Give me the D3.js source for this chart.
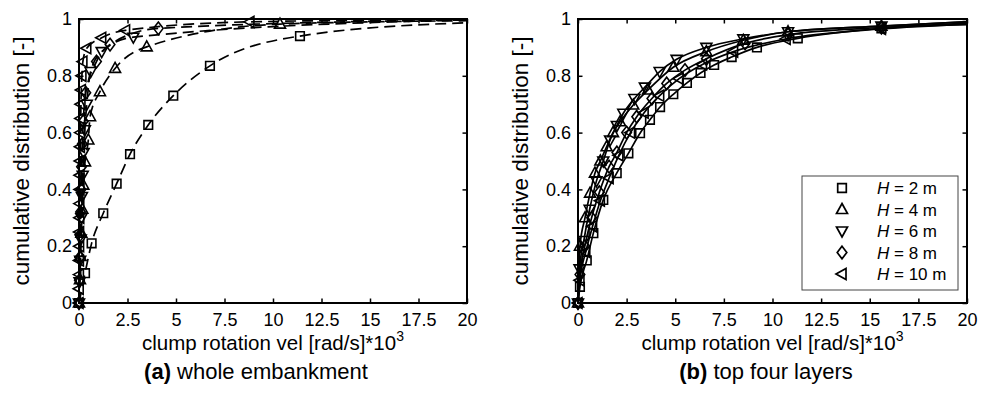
<!DOCTYPE html>
<html>
<head>
<meta charset="utf-8">
<script src="https://cdn.jsdelivr.net/npm/d3@7"></script>
<style>
  body { margin: 0; background: #fff; }
  svg text { font-family: "Liberation Sans", Arial, sans-serif; fill: #000; }
</style>
</head>
<body>
<div id="chart"></div>
<script>
// tick values and labels
const xTickValues = [0, 2.5, 5, 7.5, 10, 12.5, 15, 17.5, 20];
const xTickLabels = ["0", "2.5", "5", "7.5", "10", "12.5", "15", "17.5", "20"];
const yTickValues = [0, 0.2, 0.4, 0.6, 0.8, 1];
const yTickLabels = ["0", "0.2", "0.4", "0.6", "0.8", "1"];

// series: embankment height
const heights = ["2", "4", "6", "8", "10"];
const markerKinds = ["square", "triUp", "triDown", "diamond", "triLeft"];

// (a) whole embankment - marker points
const aX_h2 = [0, 0.31, 0.65, 1.25, 1.94, 2.63, 3.57, 4.86, 6.75, 11.39];
const aY_h2 = [0, 0.105, 0.21, 0.316, 0.42, 0.524, 0.627, 0.73, 0.835, 0.94];
const aX_h4 = [0, 0.05, 0.08, 0.12, 0.17, 0.22, 0.31, 0.48, 0.57, 1.08, 1.86, 3.49, 10.36];
const aY_h4 = [0, 0.082, 0.164, 0.246, 0.33, 0.415, 0.497, 0.574, 0.656, 0.744, 0.826, 0.902, 0.982];
const aX_h6 = [0, 0.03, 0.06, 0.09, 0.12, 0.15, 0.19, 0.24, 0.3, 0.4, 0.6, 1.17, 2.8];
const aY_h6 = [0, 0.075, 0.15, 0.225, 0.3, 0.375, 0.45, 0.53, 0.61, 0.7, 0.815, 0.885, 0.936];
const aX_h8 = [0, 0.02, 0.04, 0.06, 0.08, 0.1, 0.13, 0.17, 0.22, 0.35, 0.9, 1.6, 4.09];
const aY_h8 = [0, 0.08, 0.16, 0.24, 0.32, 0.4, 0.48, 0.56, 0.64, 0.74, 0.85, 0.91, 0.967];
const aX_h10 = [0, 0.01, 0.02, 0.02, 0.03, 0.03, 0.04, 0.04, 0.05, 0.05, 0.06, 0.07, 0.08, 0.09, 0.1, 0.12, 0.15, 0.2, 0.4, 1.17, 2.4, 8.81];
const aY_h10 = [0, 0.05, 0.1, 0.15, 0.2, 0.25, 0.3, 0.35, 0.4, 0.45, 0.5, 0.55, 0.6, 0.65, 0.7, 0.75, 0.8, 0.85, 0.897, 0.934, 0.96, 0.99];
// value of each curve where it leaves the plot at x = 20
const aTailY = [0.987, 0.994, 0.997, 0.997, 0.998];

// (b) top four layers - marker points
const bX_h2 = [0, 0.1, 0.45, 0.79, 1.3, 1.99, 2.59, 3.19, 3.7, 4.22, 4.9, 5.6, 6.3, 7.0, 7.9, 9.2, 11.3, 15.6];
const bY_h2 = [0, 0.057, 0.15, 0.246, 0.363, 0.457, 0.527, 0.598, 0.645, 0.69, 0.735, 0.775, 0.81, 0.838, 0.866, 0.9, 0.932, 0.967];
const bX_h4 = [0, 0.1, 0.36, 0.62, 0.87, 1.15, 1.47, 1.8, 2.16, 2.84, 3.6, 4.9, 6.6, 8.5, 10.8, 15.6];
const bY_h4 = [0, 0.2, 0.3, 0.387, 0.457, 0.5, 0.55, 0.6, 0.638, 0.697, 0.75, 0.83, 0.885, 0.925, 0.955, 0.975];
const bX_h6 = [0, 0.08, 0.3, 0.6, 0.95, 1.3, 1.65, 2.0, 2.33, 2.9, 3.44, 4.2, 5.07, 6.6, 8.5, 10.8, 15.6];
const bY_h6 = [0, 0.12, 0.22, 0.33, 0.43, 0.5, 0.574, 0.625, 0.668, 0.72, 0.76, 0.815, 0.858, 0.9, 0.93, 0.955, 0.975];
const bX_h8 = [0, 0.1, 0.35, 0.7, 1.1, 1.6, 2.0, 2.5, 3.02, 3.8, 4.56, 5.5, 6.6, 8.59, 10.8, 15.6];
const bY_h8 = [0, 0.1, 0.2, 0.3, 0.39, 0.48, 0.53, 0.6, 0.656, 0.72, 0.773, 0.82, 0.86, 0.914, 0.945, 0.97];
const bX_h10 = [0, 0.1, 0.4, 0.75, 1.15, 1.6, 2.1, 2.7, 3.4, 4.2, 5.2, 6.4, 8.0, 10.7, 15.6];
const bY_h10 = [0, 0.08, 0.18, 0.27, 0.36, 0.44, 0.52, 0.6, 0.67, 0.73, 0.79, 0.84, 0.885, 0.93, 0.965];
const bTailY = [0.98, 0.99, 0.99, 0.985, 0.982];

const width = 987, height = 398;
const plotTop = 19, plotBottom = 303;

const svg = d3.select("#chart").append("svg")
    .attr("width", width)
    .attr("height", height);

// marker outlines, centred on 0,0
function markerPath(kind) {
  if (kind == "square") return "M-4.3,-4.3H4.3V4.3H-4.3Z";
  if (kind == "triUp") return "M0,-6L5.5,4L-5.5,4Z";
  if (kind == "triDown") return "M0,6L5.5,-4L-5.5,-4Z";
  if (kind == "diamond") return "M0,-6.3L4.8,0L0,6.3L-4.8,0Z";
  return "M-6,0L4,-5.5L4,5.5Z";
}

function drawPanel(opt) {
  const x = d3.scaleLinear().domain([0, 20]).range([opt.left, opt.right]);
  const y = d3.scaleLinear().domain([0, 1]).range([plotBottom, plotTop]);
  const g = svg.append("g");

  // inward ticks on all four sides
  g.append("g")
    .attr("transform", "translate(0," + plotBottom + ")")
    .call(d3.axisBottom(x).tickValues(xTickValues)
      .tickFormat((d, i) => xTickLabels[i]).tickSize(-4.5).tickPadding(10))
    .call(ax => ax.select(".domain").remove())
    .selectAll("text").style("font-size", "18px");
  g.append("g")
    .attr("transform", "translate(0," + plotTop + ")")
    .call(d3.axisTop(x).tickValues(xTickValues).tickFormat("").tickSize(-4.5))
    .call(ax => ax.select(".domain").remove());
  g.append("g")
    .attr("transform", "translate(" + opt.left + ",0)")
    .call(d3.axisLeft(y).tickValues(yTickValues)
      .tickFormat((d, i) => yTickLabels[i]).tickSize(-4.5).tickPadding(7))
    .call(ax => ax.select(".domain").remove())
    .selectAll("text").style("font-size", "18px");
  g.append("g")
    .attr("transform", "translate(" + opt.right + ",0)")
    .call(d3.axisRight(y).tickValues(yTickValues).tickFormat("").tickSize(-4.5))
    .call(ax => ax.select(".domain").remove());
  g.selectAll(".tick line").attr("stroke", "#000").attr("stroke-width", 1.5);

  const line = d3.line()
    .x(d => x(d[0]))
    .y(d => y(d[1]))
    .curve(d3.curveMonotoneX);

  opt.series.forEach((s, i) => {
    const pts = s.xs.map((v, j) => [v, s.ys[j]]);
    g.append("path")
      .attr("d", line(pts.concat([[20, opt.tail[i]]])))
      .attr("fill", "none")
      .attr("stroke", "#000")
      .attr("stroke-width", 1.7)
      .attr("stroke-dasharray", opt.dash);
    g.selectAll(null).data(pts).enter().append("path")
      .attr("transform", d => "translate(" + x(d[0]) + "," + y(d[1]) + ")")
      .attr("d", markerPath(markerKinds[i]))
      .attr("fill", "none")
      .attr("stroke", "#000")
      .attr("stroke-width", 1.6);
  });

  // box
  g.append("rect")
    .attr("x", opt.left).attr("y", plotTop)
    .attr("width", opt.right - opt.left).attr("height", plotBottom - plotTop)
    .attr("fill", "none").attr("stroke", "#000").attr("stroke-width", 2);

  // axis titles
  const cx = (opt.left + opt.right) / 2;
  const xt = g.append("text")
    .attr("x", cx).attr("y", 350)
    .attr("text-anchor", "middle")
    .style("font-size", "20.5px")
    .text("clump rotation vel [rad/s]*10");
  xt.append("tspan").attr("dy", -9).style("font-size", "14px").text("3");

  g.append("text")
    .attr("transform", "translate(" + (opt.left - 50) + "," + ((plotTop + plotBottom) / 2) + ") rotate(-90)")
    .attr("text-anchor", "middle")
    .style("font-size", "22.5px")
    .text("cumulative distribution [-]");

  const st = g.append("text")
    .attr("x", opt.subX).attr("y", 379)
    .attr("text-anchor", "middle")
    .style("font-size", "22px");
  st.append("tspan").style("font-weight", "bold").text(opt.tag);
  st.append("tspan").text(" " + opt.caption);

  return {x: x, y: y, g: g};
}

drawPanel({
  left: 79, right: 467,
  dash: "11,6",
  tail: aTailY,
  series: [
    {xs: aX_h2, ys: aY_h2}, {xs: aX_h4, ys: aY_h4}, {xs: aX_h6, ys: aY_h6},
    {xs: aX_h8, ys: aY_h8}, {xs: aX_h10, ys: aY_h10}
  ],
  subX: 256, tag: "(a)", caption: "whole embankment"
});

drawPanel({
  left: 578, right: 967,
  dash: null,
  tail: bTailY,
  series: [
    {xs: bX_h2, ys: bY_h2}, {xs: bX_h4, ys: bY_h4}, {xs: bX_h6, ys: bY_h6},
    {xs: bX_h8, ys: bY_h8}, {xs: bX_h10, ys: bY_h10}
  ],
  subX: 766, tag: "(b)", caption: "top four layers"
});

// legend inside panel (b)
const lg = svg.append("g");
lg.append("rect")
  .attr("x", 802).attr("y", 176)
  .attr("width", 156).attr("height", 114)
  .attr("fill", "#fff").attr("stroke", "#444").attr("stroke-width", 1);
heights.forEach((h, i) => {
  const cy = 188 + i * 21.5;
  lg.append("path")
    .attr("transform", "translate(842," + cy + ")")
    .attr("d", markerPath(markerKinds[i]))
    .attr("fill", "none").attr("stroke", "#000").attr("stroke-width", 1.7);
  const t = lg.append("text")
    .attr("x", 877).attr("y", cy + 6)
    .style("font-size", "17px");
  t.append("tspan").style("font-style", "italic").text("H");
  t.append("tspan").text(" = " + h + " m");
});
</script>
</body>
</html>
